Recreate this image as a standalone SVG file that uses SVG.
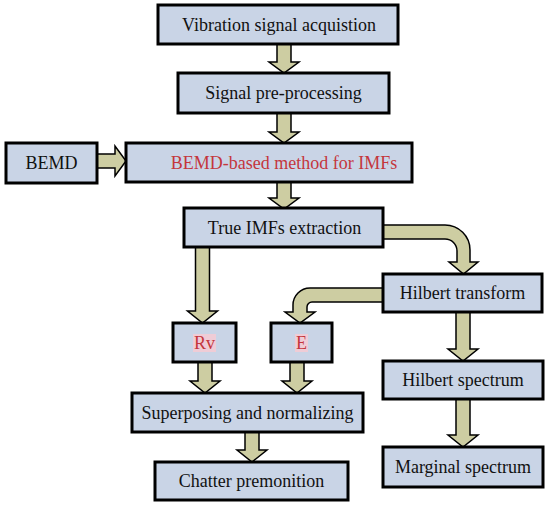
<svg xmlns="http://www.w3.org/2000/svg" width="550" height="508" viewBox="0 0 550 508">
<style>
.box{fill:#c9d4e6;stroke:#000;stroke-width:3}
.arr{fill:#cdcda2;stroke:#000;stroke-width:1.5;stroke-linejoin:miter}
text{font-family:"Liberation Serif","Times New Roman",serif;font-size:18px;fill:#111;text-anchor:middle}
.red{fill:#c4363c}
.hl{fill:#efccd6}
</style>
<rect width="550" height="508" fill="#fff"/>
<g id="connectors">
<path class="arr" d="M277,44 V62 H269 L284,73 L299,62 H291 V44 Z"/>
<path class="arr" d="M277,113 V132 H269 L284,143 L299,132 H291 V113 Z"/>
<path class="arr" d="M277,182 V198 H269 L284,209 L299,198 H291 V182 Z"/>
<path class="arr" d="M97,154 H115 V146 L126,161 L115,176 V168 H97 Z"/>
<path class="arr" d="M195.5,247 V311 H187.5 L202.5,323 L217.5,311 H209.5 V247 Z"/>
<path class="arr" d="M198,362 V381 H190 L205,393 L220,381 H212 V362 Z"/>
<path class="arr" d="M290,362 V381 H282 L297,393 L312,381 H304 V362 Z"/>
<path class="arr" d="M245,432 V450 H237 L252,462 L267,450 H259 V432 Z"/>
<path class="arr" d="M456,312 V349 H448 L463,361 L478,349 H470 V312 Z"/>
<path class="arr" d="M456,399 V435 H448 L463,447 L478,435 H470 V399 Z"/>
<path class="arr" d="M383,225 H445 A25,25 0 0 1 470,250 V262 H478 L463.5,274 L449,262 H457 V251 A12,12 0 0 0 445,239 H383 Z"/>
<path class="arr" d="M383,288 H310 A17,17 0 0 0 293,305 V312 H285 L300,323 L315,312 H307 V307 A5,5 0 0 1 312,302 H383 Z"/>
</g>
<g id="n1"><rect class="box" x="158" y="5" width="240" height="39"/><text x="279" y="31">Vibration signal acquistion</text></g>
<g id="n2"><rect class="box" x="178" y="73" width="211" height="40"/><text x="283.5" y="99">Signal pre-processing</text></g>
<g id="n3"><rect class="box" x="6" y="143" width="91" height="40"/><text x="51.5" y="169">BEMD</text></g>
<g id="n4"><rect class="box" x="126" y="143" width="286" height="39"/><text class="red" x="284" y="169">BEMD-based method for IMFs</text></g>
<g id="n5"><rect class="box" x="184" y="208" width="199" height="39"/><text x="284.5" y="234">True IMFs extraction</text></g>
<g id="n6"><rect class="box" x="383" y="274" width="159" height="38"/><text x="462.5" y="299">Hilbert transform</text></g>
<g id="n7"><rect class="box" x="173" y="323" width="63" height="39"/><rect class="hl" x="193" y="334" width="23" height="18"/><text class="red" x="204.5" y="349">Rv</text></g>
<g id="n8"><rect class="box" x="271" y="323" width="61" height="39"/><rect class="hl" x="295" y="334" width="13" height="18"/><text class="red" x="301.5" y="349">E</text></g>
<g id="n9"><rect class="box" x="132" y="393" width="231" height="39"/><text x="247.5" y="419">Superposing and normalizing</text></g>
<g id="n10"><rect class="box" x="155" y="462" width="193" height="38"/><text x="251.5" y="487">Chatter premonition</text></g>
<g id="n11"><rect class="box" x="383" y="361" width="160" height="38"/><text x="463" y="386">Hilbert spectrum</text></g>
<g id="n12"><rect class="box" x="383" y="447" width="160" height="40"/><text x="463" y="473">Marginal spectrum</text></g>
</svg>
